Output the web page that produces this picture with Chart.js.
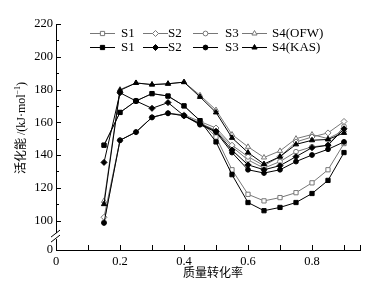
<!DOCTYPE html>
<html>
<head>
<meta charset="utf-8">
<script src="https://cdn.jsdelivr.net/npm/chart.js@4.4.0/dist/chart.umd.min.js"></script>
<style>
  html, body { margin: 0; padding: 0; background: #fff; }
</style>
</head>
<body>
<canvas id="graficoEa" width="377" height="284"></canvas>
<script>
// 质量转化率
const conversion = [0.15, 0.2, 0.25, 0.3, 0.35, 0.4, 0.45, 0.5, 0.55, 0.6, 0.65, 0.7, 0.75, 0.8, 0.85, 0.9];

// OFW 法活化能 (空心)
const s1Ofw = [146, 166, 173, 177.5, 176, 170, 161, 151, 131, 116, 112, 114, 117, 123, 131, 147];
const s2Ofw = [102, 149, 154, 163, 165.5, 164.5, 160.5, 156.5, 146, 139, 133.5, 139, 148, 151, 153.5, 160.5];
const s3Ofw = [99, 149, 154, 163, 165.5, 164, 159.5, 155, 145, 137, 132, 136, 142, 145, 146, 157.5];
const s4Ofw = [112, 180, 184, 183, 183.5, 184.5, 176.5, 167.5, 152.5, 145, 138.5, 142.5, 150, 152.5, 150, 155];

// KAS 法活化能 (实心)
const s1Kas = [146, 166, 173, 177.5, 176, 170, 161, 148, 128, 111, 106, 108, 111, 116.5, 124.5, 141.5];
const s2Kas = [135.5, 178, 173, 168.5, 172, 164, 159, 154.5, 143, 134, 131, 133.5, 139, 144.5, 146, 156];
const s3Kas = [98.5, 149, 154, 163, 165.5, 164, 158.5, 154, 141.5, 131, 129, 131, 136, 140, 143.5, 148];
const s4Kas = [110, 179.5, 184, 183, 183.5, 184.5, 175.5, 166, 150.5, 141.5, 134.5, 139, 146.5, 149, 149.5, 153.5];

const ofwLabels = ["S1", "S2", "S3", "S4(OFW)"];
const kasLabels = ["S1", "S2", "S3", "S4(KAS)"];

// 坐标轴刻度 (82 处为断轴后的 "0")
const xTicks = [0, 0.2, 0.4, 0.6, 0.8];
const xMinorTicks = [0.1, 0.2, 0.3, 0.4, 0.5, 0.6, 0.7, 0.8, 0.9, 0.95];
const yTicks = [82, 100, 120, 140, 160, 180, 200, 220];
const yMinorTicks = [100, 110, 120, 130, 140, 150, 160, 170, 180, 190, 200, 210, 220];

const GRIS = "#777";
const NEGRO = "#000";
const estilos = ["rect", "rectRot", "circle", "triangle"];
const radios = [3, 3, 2.4, 3];
const FUENTE = '"Times New Roman", "Liberation Serif", "DejaVu Serif", serif';
const FUENTE_CJK = '"Times New Roman", "Liberation Serif", "Noto Sans CJK SC", serif';

const toPts = (ys) => ys.map((y, i) => ({ x: conversion[i], y: y }));

const serieKas = [s1Kas, s2Kas, s3Kas, s4Kas].map((d, i) => ({
  label: kasLabels[i],
  data: toPts(d),
  borderColor: NEGRO,
  backgroundColor: NEGRO,
  pointBackgroundColor: NEGRO,
  pointBorderColor: NEGRO,
  pointStyle: estilos[i],
  pointRadius: radios[i],
  borderWidth: 1,
  pointBorderWidth: 1,
  tension: 0,
}));

const serieOfw = [s1Ofw, s2Ofw, s3Ofw, s4Ofw].map((d, i) => ({
  label: ofwLabels[i],
  data: toPts(d),
  borderColor: GRIS,
  backgroundColor: "#fff",
  pointBackgroundColor: "#fff",
  pointBorderColor: GRIS,
  pointStyle: estilos[i],
  pointRadius: radios[i],
  borderWidth: 1,
  pointBorderWidth: 1,
  tension: 0,
}));

// ticks hacia dentro, eje cortado, titulos y leyenda
const decoPlugin = {
  id: "deco",
  afterDraw(chart) {
    const ctx = chart.ctx;
    const xs = chart.scales.x;
    const ys = chart.scales.y;
    const a = chart.chartArea;
    ctx.save();
    ctx.strokeStyle = NEGRO;
    ctx.lineWidth = 1;

    // ticks del eje x
    xMinorTicks.forEach((v) => {
      const px = Math.round(xs.getPixelForValue(v)) + 0.5;
      ctx.beginPath();
      ctx.moveTo(px, a.bottom);
      ctx.lineTo(px, a.bottom - 5);
      ctx.stroke();
    });
    // ticks del eje y
    yMinorTicks.forEach((v) => {
      const py = Math.round(ys.getPixelForValue(v)) + 0.5;
      const len = v % 20 === 0 ? 5 : 3;
      ctx.beginPath();
      ctx.moveTo(a.left, py);
      ctx.lineTo(a.left + len, py);
      ctx.stroke();
    });

    // corte del eje y
    const yb = ys.getPixelForValue(90.5);
    ctx.fillStyle = "#fff";
    ctx.fillRect(a.left - 2, yb - 3, 4, 6);
    ctx.beginPath();
    ctx.moveTo(a.left - 5, yb + 1);
    ctx.lineTo(a.left + 4, yb - 6);
    ctx.moveTo(a.left - 5, yb + 6);
    ctx.lineTo(a.left + 4, yb - 1);
    ctx.stroke();

    // titulos
    ctx.fillStyle = NEGRO;
    ctx.textBaseline = "middle";
    ctx.textAlign = "center";
    ctx.font = '12px "Noto Sans CJK SC", sans-serif';
    ctx.fillText("质量转化率", 213, 272);

    ctx.save();
    ctx.translate(22, 128);
    ctx.rotate(-Math.PI / 2);
    const t1 = "活化能 /(kJ·mol";
    const t2 = "−1";
    const t3 = ")";
    ctx.font = "12px " + FUENTE_CJK;
    const w1 = ctx.measureText(t1).width;
    const w3 = ctx.measureText(t3).width;
    ctx.font = "8px " + FUENTE;
    const w2 = ctx.measureText(t2).width;
    let x0 = -(w1 + w2 + w3) / 2;
    ctx.textAlign = "left";
    ctx.font = "12px " + FUENTE_CJK;
    ctx.fillText(t1, x0, 0);
    ctx.font = "8px " + FUENTE;
    ctx.fillText(t2, x0 + w1, -4);
    ctx.font = "12px " + FUENTE;
    ctx.fillText(t3, x0 + w1 + w2, 0);
    ctx.restore();

    // leyenda
    const lineasX = [[90, 115], [143, 168], [193, 218], [242, 267]];
    const textoX = [121, 168, 225, 272];
    const filas = [
      { y: 33, series: serieOfw, labels: ofwLabels },
      { y: 47, series: serieKas, labels: kasLabels },
    ];
    ctx.font = "13px " + FUENTE;
    ctx.textAlign = "left";
    filas.forEach((f) => {
      f.series.forEach((s, i) => {
        const [x1, x2] = lineasX[i];
        ctx.strokeStyle = s.borderColor;
        ctx.beginPath();
        ctx.moveTo(x1, f.y + 0.5);
        ctx.lineTo(x2, f.y + 0.5);
        ctx.stroke();
        ctx.fillStyle = s.pointBackgroundColor;
        ctx.strokeStyle = s.pointBorderColor;
        Chart.helpers.drawPoint(ctx, {
          pointStyle: s.pointStyle,
          radius: s.pointRadius,
          rotation: 0,
          borderWidth: 1,
        }, (x1 + x2) / 2, f.y + 0.5);
        ctx.fillStyle = NEGRO;
        ctx.fillText(f.labels[i], textoX[i], f.y + 1);
      });
    });
    ctx.restore();
  },
};

new Chart(document.getElementById("graficoEa").getContext("2d"), {
  type: "line",
  data: { datasets: serieKas.concat(serieOfw) },
  options: {
    responsive: false,
    animation: false,
    layout: { padding: { top: 24, right: 17, bottom: 0, left: 0 } },
    plugins: { legend: { display: false }, tooltip: { enabled: false } },
    scales: {
      x: {
        type: "linear",
        min: 0,
        max: 0.95,
        afterBuildTicks: (s) => { s.ticks = xTicks.map((v) => ({ value: v })); },
        afterFit: (s) => { s.height = 34; },
        ticks: {
          color: NEGRO,
          padding: 4,
          font: { family: FUENTE, size: 12.5 },
          maxRotation: 0,
          callback: (v) => (v === 0 ? "0" : v.toFixed(1)),
        },
        grid: { display: false, drawTicks: false },
        border: { display: true, color: NEGRO, width: 1 },
      },
      y: {
        min: 82,
        max: 220,
        afterBuildTicks: (s) => { s.ticks = yTicks.map((v) => ({ value: v })); },
        afterFit: (s) => { s.width = 56; },
        ticks: {
          color: NEGRO,
          padding: 3,
          font: { family: FUENTE, size: 12.5 },
          callback: (v) => (v === 82 ? "0" : String(v)),
        },
        grid: { display: false, drawTicks: false },
        border: { display: true, color: NEGRO, width: 1 },
      },
    },
  },
  plugins: [decoPlugin],
});
</script>
</body>
</html>
